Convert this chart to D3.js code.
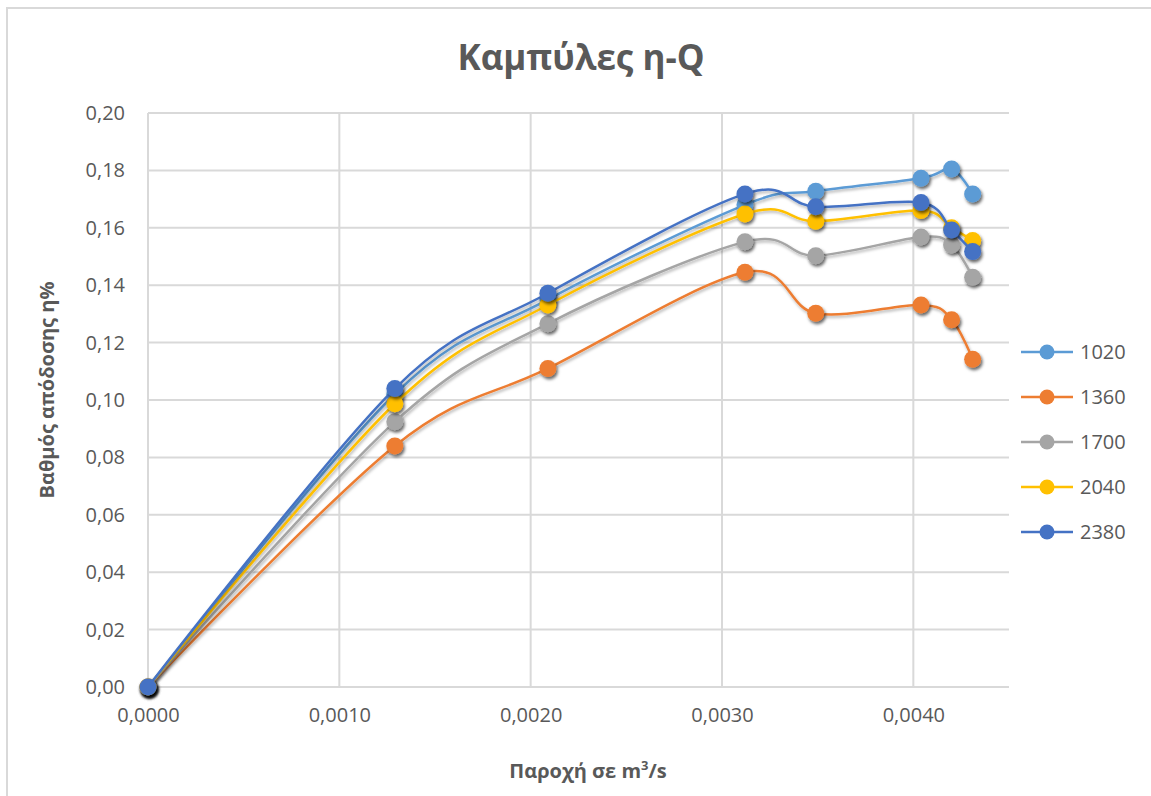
<!DOCTYPE html>
<html>
<head>
<meta charset="utf-8">
<script src="https://cdn.jsdelivr.net/npm/d3@7"></script>
<style>
  html, body { margin: 0; padding: 0; background: #fff; }
  svg { display: block; }
  text { font-family: "Open Sans", "Noto Sans", sans-serif; fill: #595959; }
</style>
</head>
<body>
<svg id="chart" width="1151" height="796"></svg>
<script>
// Flow rate (m³/s) at each measured point
const flow = [0, 0.00129, 0.00209, 0.00312, 0.00349, 0.00404, 0.00420, 0.00431];

// Efficiency per rotational speed (rpm)
const seriesNames = ["1020", "1360", "1700", "2040", "2380"];
const eff1020 = [0, 0.1020, 0.1350, 0.1680, 0.1727, 0.1773, 0.1805, 0.1718];
const eff1360 = [0, 0.0840, 0.1110, 0.1445, 0.1302, 0.1331, 0.1280, 0.1142];
const eff1700 = [0, 0.0924, 0.1266, 0.1551, 0.1503, 0.1568, 0.1540, 0.1428];
const eff2040 = [0, 0.0987, 0.1331, 0.1648, 0.1623, 0.1660, 0.1600, 0.1556];
const eff2380 = [0, 0.1040, 0.1372, 0.1718, 0.1673, 0.1688, 0.1592, 0.1517];
const seriesColors = ["#5B9BD5", "#ED7D31", "#A5A5A5", "#FFC000", "#4472C4"];

const xTicks = [0, 0.001, 0.002, 0.003, 0.004];
const yTicks = [0, 0.02, 0.04, 0.06, 0.08, 0.10, 0.12, 0.14, 0.16, 0.18, 0.20];

const chartTitle = "Καμπύλες η-Q";
const yTitle = "Βαθμός απόδοσης η%";

const series = [eff1020, eff1360, eff1700, eff2040, eff2380].map((vals, i) => ({
  name: seriesNames[i],
  color: seriesColors[i],
  points: vals.map((v, j) => ({ x: flow[j], y: v }))
}));

const svg = d3.select("#chart");
const W = 1151, H = 796;
const plot = { left: 148, top: 113, right: 1009, bottom: 687 };

const x = d3.scaleLinear().domain([0, 0.0045]).range([plot.left, plot.right]);
const y = d3.scaleLinear().domain([0, 0.20]).range([plot.bottom, plot.top]);

const fmt = (d, n) => d.toFixed(n).replace(".", ",");

// soft drop shadow used on lines and markers
const defs = svg.append("defs");
const f = defs.append("filter").attr("id", "shadow")
  .attr("x", "-50%").attr("y", "-50%").attr("width", "200%").attr("height", "200%");
f.append("feDropShadow").attr("dx", 1.5).attr("dy", 2.5).attr("stdDeviation", 1.6)
  .attr("flood-color", "#000").attr("flood-opacity", 0.6);
const fl = defs.append("filter").attr("id", "lineShadow")
  .attr("x", "-10%").attr("y", "-10%").attr("width", "120%").attr("height", "120%");
fl.append("feDropShadow").attr("dx", 1).attr("dy", 2).attr("stdDeviation", 1.4)
  .attr("flood-color", "#000").attr("flood-opacity", 0.3);

// chart frame
svg.append("rect").attr("x", 7).attr("y", 8).attr("width", W).attr("height", H)
  .attr("fill", "none").attr("stroke", "#d9d9d9").attr("stroke-width", 2);

// gridlines
const grid = svg.append("g");
grid.selectAll("line.h").data(yTicks).join("line")
  .attr("x1", plot.left).attr("x2", plot.right)
  .attr("y1", d => y(d)).attr("y2", d => y(d))
  .attr("stroke", "#d9d9d9").attr("stroke-width", 2);
grid.selectAll("line.v").data(xTicks).join("line")
  .attr("y1", plot.top).attr("y2", plot.bottom)
  .attr("x1", d => x(d)).attr("x2", d => x(d))
  .attr("stroke", "#d9d9d9").attr("stroke-width", 2);

// axes (labels only; lines come from the grid)
const yAxis = svg.append("g").attr("transform", `translate(${plot.left - 20},0)`)
  .call(d3.axisLeft(y).tickValues(yTicks).tickSize(0).tickFormat(d => fmt(d, 2)));
yAxis.select(".domain").remove();
yAxis.selectAll("text").attr("font-size", 20).attr("fill", "#595959")
  .style("font-family", "'Open Sans', sans-serif");

const xAxis = svg.append("g").attr("transform", `translate(0,${plot.bottom + 18})`)
  .call(d3.axisBottom(x).tickValues(xTicks).tickSize(0).tickFormat(d => fmt(d, 4)));
xAxis.select(".domain").remove();
xAxis.selectAll("text").attr("font-size", 20).attr("fill", "#595959")
  .style("font-family", "'Open Sans', sans-serif");

// smoothed series lines and markers
const line = d3.line().x(d => x(d.x)).y(d => y(d.y)).curve(d3.curveCardinal.tension(0));
const gSeries = svg.append("g");
series.forEach(s => {
  const g = gSeries.append("g");
  g.append("path").attr("d", line(s.points))
    .attr("fill", "none").attr("stroke", s.color).attr("stroke-width", 2.5)
    .attr("filter", "url(#lineShadow)");
  g.selectAll("circle").data(s.points).join("circle")
    .attr("cx", d => x(d.x)).attr("cy", d => y(d.y)).attr("r", 8.5)
    .attr("fill", s.color).attr("filter", "url(#shadow)");
});

// title
svg.append("text").attr("x", 581).attr("y", 70).attr("text-anchor", "middle")
  .attr("font-size", 35).attr("font-weight", "bold").text(chartTitle);

// axis titles
svg.append("text").attr("transform", "translate(54,390) rotate(-90)")
  .attr("text-anchor", "middle").attr("font-size", 20).attr("font-weight", "bold")
  .text(yTitle);
const xt = svg.append("text").attr("x", 588).attr("y", 778).attr("text-anchor", "middle")
  .attr("font-size", 20).attr("font-weight", "bold");
xt.append("tspan").text("Παροχή σε m");
xt.append("tspan").attr("font-size", 13).attr("dy", -8).text("3");
xt.append("tspan").attr("dy", 8).text("/s");

// legend
const legend = svg.append("g");
series.forEach((s, i) => {
  const ly = 352 + i * 45;
  const g = legend.append("g").attr("transform", `translate(1021,${ly})`);
  g.append("line").attr("x1", 0).attr("x2", 52).attr("stroke", s.color).attr("stroke-width", 2.5);
  g.append("circle").attr("cx", 26).attr("r", 7.5).attr("fill", s.color);
  g.append("text").attr("x", 59).attr("dy", "0.35em").attr("font-size", 20).text(s.name);
});
</script>
</body>
</html>
